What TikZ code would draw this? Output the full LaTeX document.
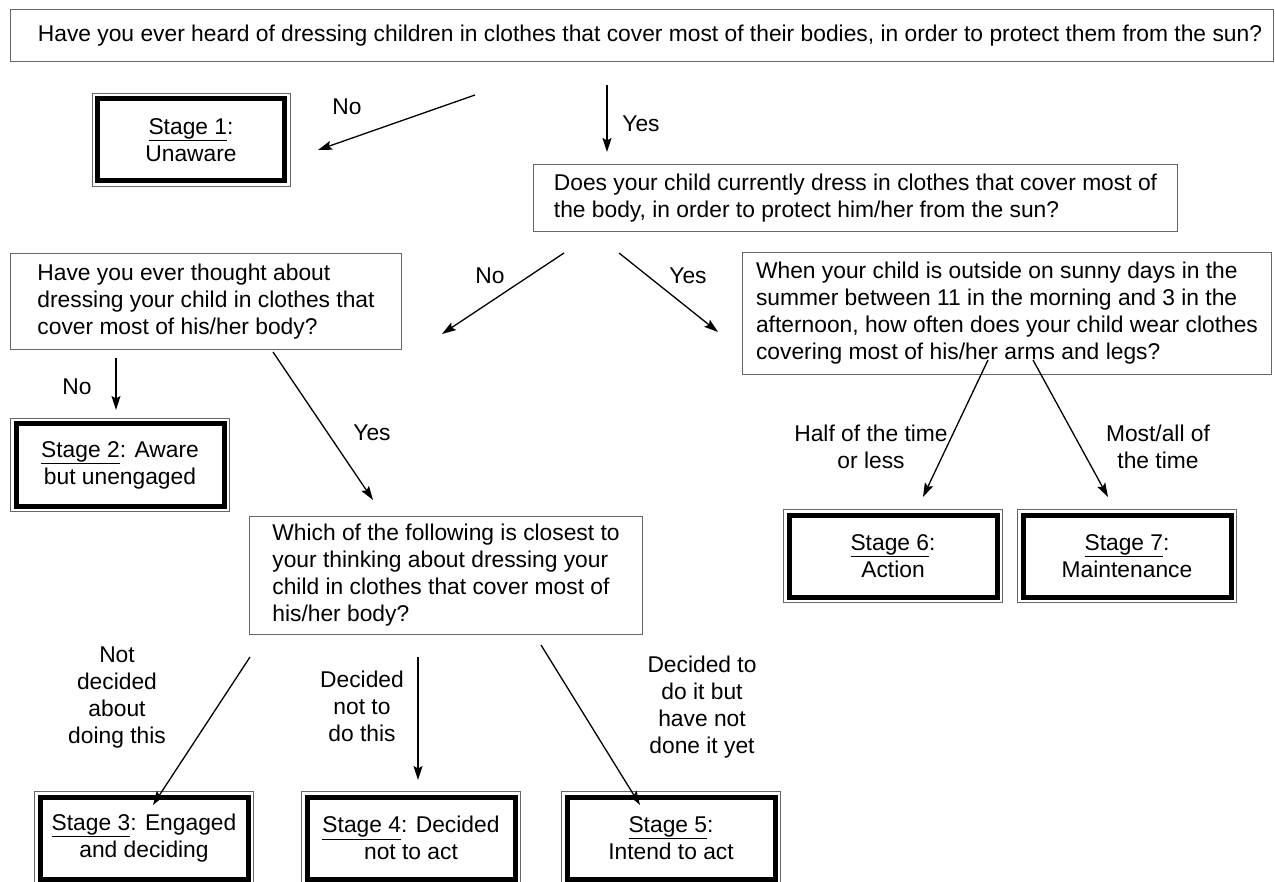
\documentclass[tikz,border=0pt]{standalone}
\usepackage{fontspec}
\setmainfont{Liberation Sans}
\usetikzlibrary{arrows.meta}
\definecolor{boxgray}{gray}{0.4}

\begin{document}
\begin{tikzpicture}[x=1pt,y=-1pt,>={Stealth[length=14pt,width=9pt,inset=2.5pt]},
every node/.style={font=\fontsize{22.8}{27}\selectfont},
qbox/.style={draw=boxgray,line width=1pt,align=left,anchor=north west,inner sep=0pt},
stagebox/.style={draw,line width=5pt,align=center,inner sep=0pt,
  minimum width=208pt,minimum height=82pt},
frame/.style={draw=boxgray,line width=1pt},
lbl/.style={align=center,inner sep=0pt}]
\useasboundingbox (0,0) rectangle (1275,882);
\clip (0,0) rectangle (1275,882);

\node[qbox,minimum width=1263pt,minimum height=52pt] (top) at (10,9)
  {\hspace*{16pt}Have you ever heard of dressing children in clothes that cover most of their bodies, in order to protect them from the sun?};
\node[qbox,minimum width=644pt,minimum height=67pt] (q2) at (533,164)
  {Does your child currently dress in clothes that cover most of\\the body, in order to protect him/her from the sun?};
\node[qbox,minimum width=391pt,minimum height=96pt] (q3) at (10,253)
  {Have you ever thought about\\dressing your child in clothes that\\cover most of his/her body?};
\node[qbox,minimum width=529pt,minimum height=122pt] (q4) at (742,252)
  {When your child is outside on sunny days in the\\summer between 11 in the morning and 3 in the\\afternoon, how often does your child wear clothes\\covering most of his/her arms and legs?};
\node[qbox,minimum width=393pt,minimum height=118pt] (q5) at (249,516)
  {Which of the following is closest to\\your thinking about dressing your\\child in clothes that cover most of\\his/her body?};

\node[stagebox,minimum width=187pt] (s1) at (191,140) {\underline{Stage 1}:\\Unaware};
\node[stagebox] (s2) at (120,465) {\underline{Stage 2}: Aware\\but unengaged};
\node[stagebox] (s3) at (144,838) {\underline{Stage 3}: Engaged\\and deciding};
\node[stagebox] (s4) at (411,838) {\underline{Stage 4}: Decided\\not to act};
\node[stagebox] (s5) at (671,838) {\underline{Stage 5}:\\Intend to act};
\node[stagebox] (s6) at (893,556) {\underline{Stage 6}:\\Action};
\node[stagebox] (s7) at (1127,556) {\underline{Stage 7}:\\Maintenance};
\foreach \s in {s1,s2,s3,s4,s5,s6,s7}
  \draw[frame] ([xshift=-3pt,yshift=3pt]\s.north west) rectangle ([xshift=3pt,yshift=-3pt]\s.south east);

\coordinate (a1) at (475,95);   \coordinate (b1) at (318,150);
\coordinate (a2) at (607,85);   \coordinate (b2) at (607,152);
\coordinate (a3) at (564,253);  \coordinate (b3) at (442,334);
\coordinate (a4) at (619,253);  \coordinate (b4) at (718,332);
\coordinate (a5) at (116,358);  \coordinate (b5) at (116,410);
\coordinate (a6) at (273,352);  \coordinate (b6) at (373,500);
\coordinate (a7) at (988,360);  \coordinate (b7) at (923,497);
\coordinate (a8) at (1033,360); \coordinate (b8) at (1108,497);
\coordinate (a9) at (250,657);  \coordinate (b9) at (153,805);
\coordinate (a10) at (418,657); \coordinate (b10) at (418,780);
\coordinate (a11) at (541,645); \coordinate (b11) at (640,805);
\path[->,line width=1.3pt]
(a1) edge (b1)
(a2) edge (b2)
(a3) edge (b3)
(a4) edge (b4)
(a5) edge (b5)
(a6) edge (b6)
(a7) edge (b7)
(a8) edge (b8)
(a9) edge (b9)
(a10) edge (b10)
(a11) edge (b11);

\node[lbl] (l1) at (347,107) {No};
\node[lbl] (l2) at (641,124) {Yes};
\node[lbl] (l3) at (490,276) {No};
\node[lbl] (l4) at (688,276) {Yes};
\node[lbl] (l5) at (77,387) {No};
\node[lbl] (l6) at (372,433) {Yes};
\node[lbl] (l7) at (871,447) {Half of the time\\or less};
\node[lbl] (l8) at (1158,447) {Most/all of\\the time};
\node[lbl] (l9) at (117,698) {Not\\decided\\about\\doing this};
\node[lbl] (l10) at (362,706) {Decided\\not to\\do this};
\node[lbl] (l11) at (702,707) {Decided to\\do it but\\have not\\done it yet};
\end{tikzpicture}
\end{document}
